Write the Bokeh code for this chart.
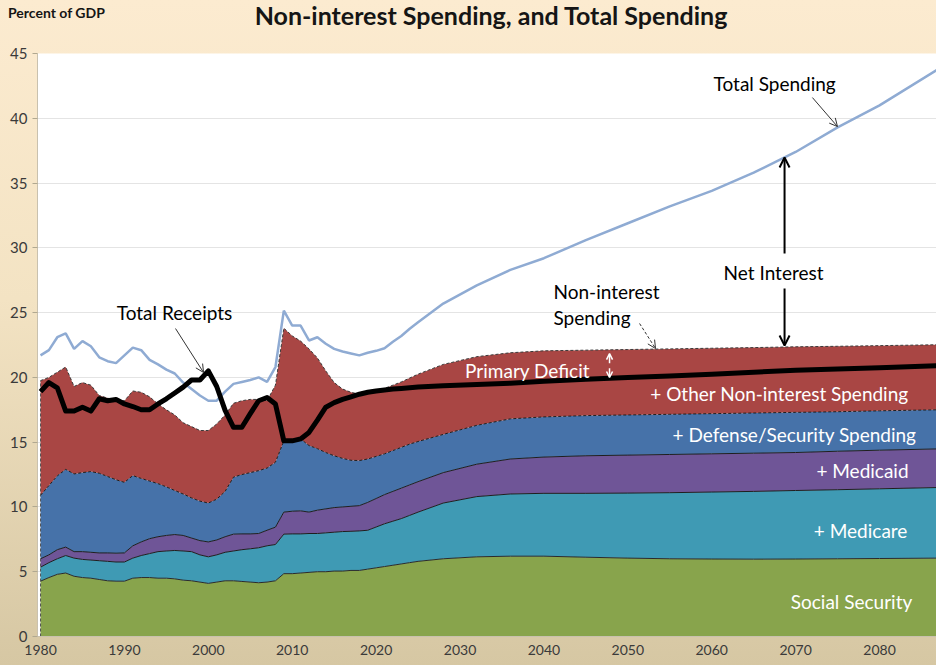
from bokeh.plotting import figure
from bokeh.layouts import column
from bokeh.models import Label, Arrow, OpenHead, FixedTicker, Range1d, Div
from bokeh.embed import file_html
from bokeh.resources import INLINE

# ---------------- data (percent of GDP) ----------------
years = list(range(1980, 2026)) + [2028, 2032, 2036, 2040, 2045, 2050, 2055, 2060, 2065, 2070, 2075, 2080, 2087]

# cumulative boundaries of the stacked layers
social_security_top = [4.27, 4.55, 4.8, 4.9, 4.65, 4.55, 4.5, 4.4, 4.3, 4.27,
                       4.27, 4.5, 4.55, 4.55, 4.5, 4.5, 4.45, 4.35, 4.3, 4.2,
                       4.1, 4.2, 4.3, 4.3, 4.25, 4.2, 4.15, 4.2, 4.3, 4.85,
                       4.85, 4.9, 4.95, 5.0, 5.0, 5.05, 5.05, 5.1, 5.1, 5.2,
                       5.3, 5.4, 5.5, 5.6, 5.7, 5.8,
                       6.0, 6.15, 6.2, 6.2, 6.12, 6.05, 6.0, 5.98, 5.97, 5.98, 6.0, 6.02, 6.05]
medicare_top = [5.35, 5.7, 6.0, 6.25, 6.05, 5.95, 5.9, 5.85, 5.8, 5.75,
                5.75, 6.05, 6.25, 6.4, 6.55, 6.6, 6.64, 6.6, 6.55, 6.3,
                6.15, 6.3, 6.5, 6.6, 6.7, 6.77, 6.85, 7.0, 7.1, 7.9,
                7.92, 7.92, 7.95, 7.95, 8.0, 8.05, 8.1, 8.12, 8.15, 8.2,
                8.45, 8.7, 8.9, 9.1, 9.35, 9.6,
                10.3, 10.8, 11.0, 11.05, 11.05, 11.07, 11.1, 11.15, 11.2, 11.27, 11.33, 11.4, 11.5]
medicaid_top = [6.0, 6.3, 6.7, 6.9, 6.55, 6.55, 6.5, 6.45, 6.45, 6.43,
                6.45, 7.0, 7.3, 7.55, 7.7, 7.8, 7.87, 7.8, 7.6, 7.4,
                7.3, 7.45, 7.7, 7.9, 7.92, 7.92, 7.95, 8.2, 8.44, 9.6,
                9.67, 9.7, 9.6, 9.75, 9.85, 9.95, 10.0, 10.05, 10.1, 10.35,
                10.65, 10.95, 11.2, 11.45, 11.7, 11.95,
                12.65, 13.3, 13.7, 13.85, 13.95, 14.0, 14.05, 14.1, 14.15, 14.2, 14.3, 14.38, 14.48]
defense_top = [10.9, 11.65, 12.4, 12.9, 12.55, 12.65, 12.73, 12.6, 12.35, 12.1,
               11.9, 12.42, 12.2, 12.0, 11.8, 11.55, 11.27, 11.0, 10.7, 10.45,
               10.3, 10.6, 11.2, 12.3, 12.5, 12.65, 12.8, 13.0, 13.45, 15.1,
               15.2, 15.25, 14.74, 14.5, 14.2, 13.95, 13.75, 13.6, 13.58, 13.7,
               13.9, 14.1, 14.35, 14.6, 14.85, 15.05,
               15.6, 16.3, 16.8, 16.95, 17.05, 17.1, 17.15, 17.2, 17.25, 17.3, 17.35, 17.42, 17.5]
non_interest_spending = [19.75, 20.0, 20.4, 20.8, 19.3, 19.6, 19.4, 18.6, 18.4, 18.2,
                         18.2, 18.95, 18.85, 18.5, 17.95, 17.5, 17.1, 16.5, 16.2, 15.9,
                         15.9, 16.4, 17.1, 18.0, 18.2, 18.3, 18.3, 18.2, 19.4, 23.8,
                         23.2, 22.8, 22.2, 21.5, 20.5, 19.6, 19.1, 18.85, 18.7, 18.75,
                         18.95, 19.15, 19.4, 19.65, 19.95, 20.25,
                         21.0, 21.6, 21.9, 22.05, 22.1, 22.15, 22.2, 22.25, 22.3, 22.36, 22.4, 22.45, 22.52]
total_spending = [21.7, 22.1, 23.1, 23.4, 22.2, 22.8, 22.4, 21.55, 21.25, 21.1,
                  21.7, 22.3, 22.1, 21.35, 21.0, 20.6, 20.3, 19.6, 19.1, 18.6,
                  18.2, 18.2, 18.9, 19.5, 19.65, 19.8, 20.0, 19.65, 20.8, 25.15,
                  24.0, 24.0, 22.85, 23.1, 22.6, 22.2, 22.0, 21.85, 21.7, 21.9,
                  22.05, 22.25, 22.75, 23.2, 23.75, 24.25,
                  25.7, 27.1, 28.3, 29.2, 30.6, 31.9, 33.2, 34.4, 35.8, 37.4, 39.3, 41.0, 43.8]
total_receipts = [18.9, 19.6, 19.2, 17.4, 17.4, 17.7, 17.4, 18.35, 18.2, 18.3,
                  17.95, 17.75, 17.5, 17.5, 17.95, 18.35, 18.8, 19.25, 19.8, 19.8,
                  20.5, 19.3, 17.45, 16.15, 16.15, 17.2, 18.2, 18.45, 17.95, 15.1,
                  15.1, 15.25, 15.75, 16.7, 17.7, 18.05, 18.3, 18.5, 18.7, 18.85,
                  18.95, 19.03, 19.1, 19.15, 19.2, 19.25,
                  19.35, 19.45, 19.55, 19.7, 19.85, 20.0, 20.1, 20.25, 20.4, 20.55, 20.65, 20.75, 20.9]
zero = [0.0] * len(years)

x_ticks = [1980, 1990, 2000, 2010, 2020, 2030, 2040, 2050, 2060, 2070, 2080]
y_ticks = [0, 5, 10, 15, 20, 25, 30, 35, 40, 45]

TITLE = "Non-interest Spending, and Total Spending"
Y_UNIT = "Percent of GDP"

GREEN = "#88a44c"
TEAL = "#3f9ab4"
PURPLE = "#6f5597"
BLUE = "#4672a9"
RED = "#a94644"
LIGHTBLUE = "#8fabd3"
FONT = "Lato"

# ---------------- header (title row) ----------------
header_html = (
    '<div style="position:relative;width:936px;height:45px;font-family:Lato;">'
    '<span style="position:absolute;left:8px;top:4px;font-size:14px;line-height:17px;'
    'font-weight:bold;color:#151515;white-space:nowrap;">' + Y_UNIT + '</span>'
    '<span style="position:absolute;left:191px;width:600px;top:0px;font-size:25px;line-height:31px;'
    'font-weight:bold;color:#151515;text-align:center;white-space:nowrap;">' + TITLE + '</span>'
    '</div>'
)
header = Div(text=header_html, width=936, height=45, margin=(0, 0, 0, 0))

# ---------------- figure ----------------
p = figure(width=936, height=620, output_backend="svg", toolbar_location=None,
           x_range=Range1d(1979.64, 2086.79), y_range=Range1d(0, 45),
           min_border_left=37, min_border_right=0, min_border_top=8, min_border_bottom=29)
p.margin = (0, 0, 0, 0)
p.border_fill_alpha = 0
p.background_fill_color = "white"
p.outline_line_color = None

p.xgrid.grid_line_color = None
p.ygrid.grid_line_color = "#e4e4e4"
p.ygrid.grid_line_width = 1

p.xaxis.ticker = FixedTicker(ticks=x_ticks)
p.yaxis.ticker = FixedTicker(ticks=y_ticks)
for ax in (p.xaxis[0], p.yaxis[0]):
    ax.axis_line_color = "#c9c1ae"
    ax.major_tick_line_color = "#b0a890"
    ax.minor_tick_line_color = None
    ax.major_label_text_font = FONT
    ax.major_label_text_color = "#3a3a3a"
p.yaxis.major_tick_out = 5
p.yaxis.major_tick_in = 0
p.yaxis.major_label_standoff = 5
p.yaxis.major_label_text_font_size = "15px"
p.xaxis.major_tick_out = 0
p.xaxis.major_tick_in = 0
p.xaxis.major_label_standoff = 8
p.xaxis.major_label_text_font_size = "14px"

# stacked areas
p.varea(x=years, y1=zero, y2=social_security_top, fill_color=GREEN)
p.varea(x=years, y1=social_security_top, y2=medicare_top, fill_color=TEAL)
p.varea(x=years, y1=medicare_top, y2=medicaid_top, fill_color=PURPLE)
p.varea(x=years, y1=medicaid_top, y2=defense_top, fill_color=BLUE)
p.varea(x=years, y1=defense_top, y2=non_interest_spending, fill_color=RED)

p.line(years, social_security_top, line_color="#2a2a2a", line_width=1)
p.line(years, medicare_top, line_color="#1e1e1e", line_width=1)
p.line(years, medicaid_top, line_color="#1e1e1e", line_width=1)
p.line(years, defense_top, line_color="#1e1e1e", line_width=1, line_dash="3 2")
p.line(years, non_interest_spending, line_color="#3a3a3a", line_width=1, line_dash="3 2")
p.segment(x0=[years[0]], y0=[0], x1=[years[0]], y1=[non_interest_spending[0]],
          line_color="#555555", line_width=1, line_dash="3 2")

p.line(years, total_spending, line_color=LIGHTBLUE, line_width=2.5)
p.line(years, total_receipts, line_color="black", line_width=5, line_join="round")

# ---------------- annotations ----------------
def lab(x, y, text, size="19px", color="black", align="center"):
    p.add_layout(Label(x=x, y=y, text=text, text_font=FONT, text_font_size=size,
                       text_color=color, text_align=align, text_baseline="middle"))

lab(1995.97, 25.0, "Total Receipts")
lab(2067.5, 42.68, "Total Spending")
lab(2067.37, 28.1, "Net Interest")
lab(2041.14, 26.63, "Non-interest", align="left")
lab(2041.14, 24.62, "Spending", align="left")
lab(2038.05, 20.53, "Primary Deficit", color="white")
lab(2083.46, 18.76, "+ Other Non-interest Spending", color="white", align="right")
lab(2084.4, 15.59, "+ Defense/Security Spending", color="white", align="right")
lab(2083.46, 12.81, "+ Medicaid", color="white", align="right")
lab(2083.9, 8.18, "+  Medicare", color="white", align="right")
lab(2083.9, 2.70, "Social Security", color="white", align="right")

def arrow(x0, y0, x1, y1, color="black", width=1, dash="solid", size=8):
    p.add_layout(Arrow(end=OpenHead(size=size, line_color=color, line_width=width),
                       x_start=x0, y_start=y0, x_end=x1, y_end=y1,
                       line_color=color, line_width=width, line_dash=dash))

arrow(1996.09, 23.77, 1999.43, 20.38, color="#333333", width=1)
arrow(2072.0, 41.6, 2074.99, 39.36, color="#333333", width=1)
arrow(2068.68, 29.56, 2068.68, 36.97, width=2, size=10)
arrow(2068.68, 26.86, 2068.68, 22.46, width=2, size=10)
arrow(2051.4, 24.16, 2053.3, 22.23, color="#333333", width=1, dash="3 2")
arrow(2047.82, 21.1, 2047.82, 21.84, color="white", width=1.5, size=6)
arrow(2047.82, 20.7, 2047.82, 19.99, color="white", width=1.5, size=6)

layout = column(header, p, spacing=0, margin=(0, 0, 0, 0),
                styles={"background": "linear-gradient(to bottom, #fcebd0 0%, #f3e3c3 45%, #d6c7a3 100%)"})

open("out.html", "w").write(file_html(layout, INLINE))
